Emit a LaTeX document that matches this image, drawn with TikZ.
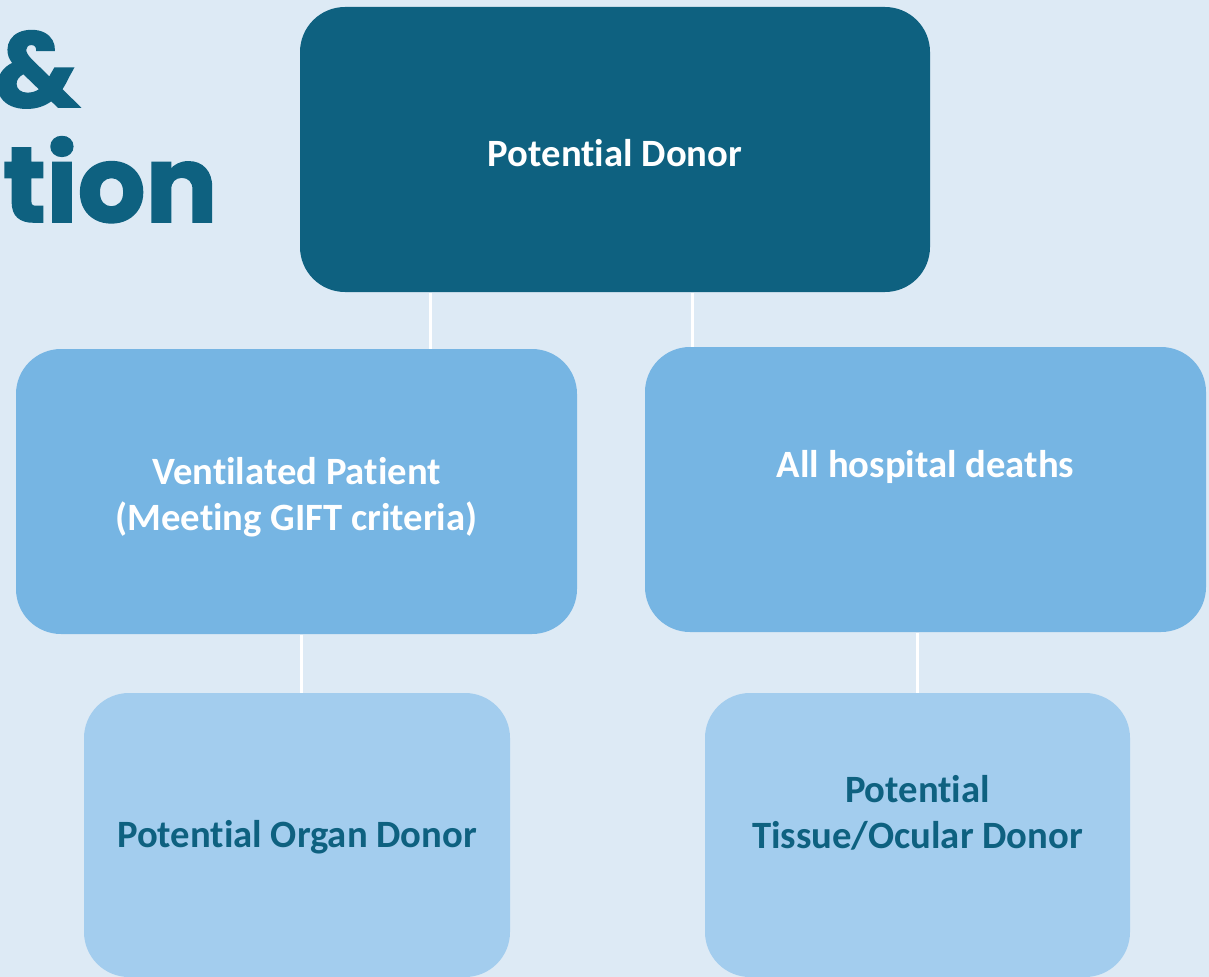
\documentclass[tikz,border=0pt]{standalone}
\usepackage{fontspec}
\setmainfont[Ligatures=NoCommon]{Carlito}
\newfontfamily\headfont[BoldFeatures={FakeBold=1.5}]{Poppins}
\usetikzlibrary{positioning}

\definecolor{pagebg}{RGB}{221,234,245}
\definecolor{donorteal}{RGB}{14,97,128}
\definecolor{midblue}{RGB}{118,181,227}
\definecolor{lightblue}{RGB}{163,205,238}

\tikzset{every picture/.style={line width=0.75pt}}
\tikzset{
  box/.style={rounded corners=33.75pt, inner sep=0pt, draw=none},
  boxtxt/.style={inner sep=0pt, align=center, font=\bfseries\fontsize{29}{34.5}\selectfont},
  headtxt/.style={anchor=base east, inner sep=0pt, text=donorteal, font=\headfont\bfseries\fontsize{80}{82}\selectfont},
  link/.style={draw=white, line width=2.25pt}
}

\begin{document}
\begin{tikzpicture}[x=0.75pt,y=0.75pt,yscale=-1,xscale=1]
\useasboundingbox (0,0) rectangle (1209,977);
\fill[pagebg] (0,0) rectangle (1209,977);

% heading, cut at the left edge
\node (headamp) [headtxt] at (80,107) {\&};
\node (headtion) [headtxt] at (218,222) {tion};

% boxes
\node (donor) [box, fill=donorteal, minimum width=472.5pt, minimum height=213.75pt] at (615,149.5) {};
\node (vent) [box, fill=midblue, minimum width=420.75pt, minimum height=213.75pt] at (296.5,491.5) {};
\node (deaths) [box, fill=midblue, minimum width=420.75pt, minimum height=213.75pt] at (925.5,489.5) {};
\node (organ) [box, fill=lightblue, minimum width=319.5pt, minimum height=213pt] at (297,835) {};
\node (tissue) [box, fill=lightblue, minimum width=318.75pt, minimum height=213pt] at (917.5,835) {};

% connectors
\coordinate (ventTop) at (430,349);
\coordinate (deathsTop) at (692,347);
\draw [link] (donor.south -| ventTop) -- (vent.north -| ventTop);
\draw [link] (donor.south -| deathsTop) -- (deaths.north -| deathsTop);
\coordinate (organTop) at (301,693);
\coordinate (tissueTop) at (917,693);
\draw [link] (vent.south -| organTop) -- (organ.north -| organTop);
\draw [link] (deaths.south -| tissueTop) -- (tissue.north -| tissueTop);

% Text Node
\node (donortxt) [boxtxt, text=white] at (615,153) {Potential Donor};
% Text Node
\node (venttxt) [boxtxt, text=white] at (296.5,497) {Ventilated Patient\\(Meeting GIFT criteria)};
% Text Node
\node (deathstxt) [boxtxt, text=white] at (925.5,467) {All hospital deaths};
% Text Node
\node (organtxt) [boxtxt, text=donorteal] at (297,837) {Potential Organ Donor};
% Text Node
\node (tissuetxt) [boxtxt, text=donorteal] at (917.5,813) {Potential\\Tissue/Ocular Donor};

\end{tikzpicture}
\end{document}
